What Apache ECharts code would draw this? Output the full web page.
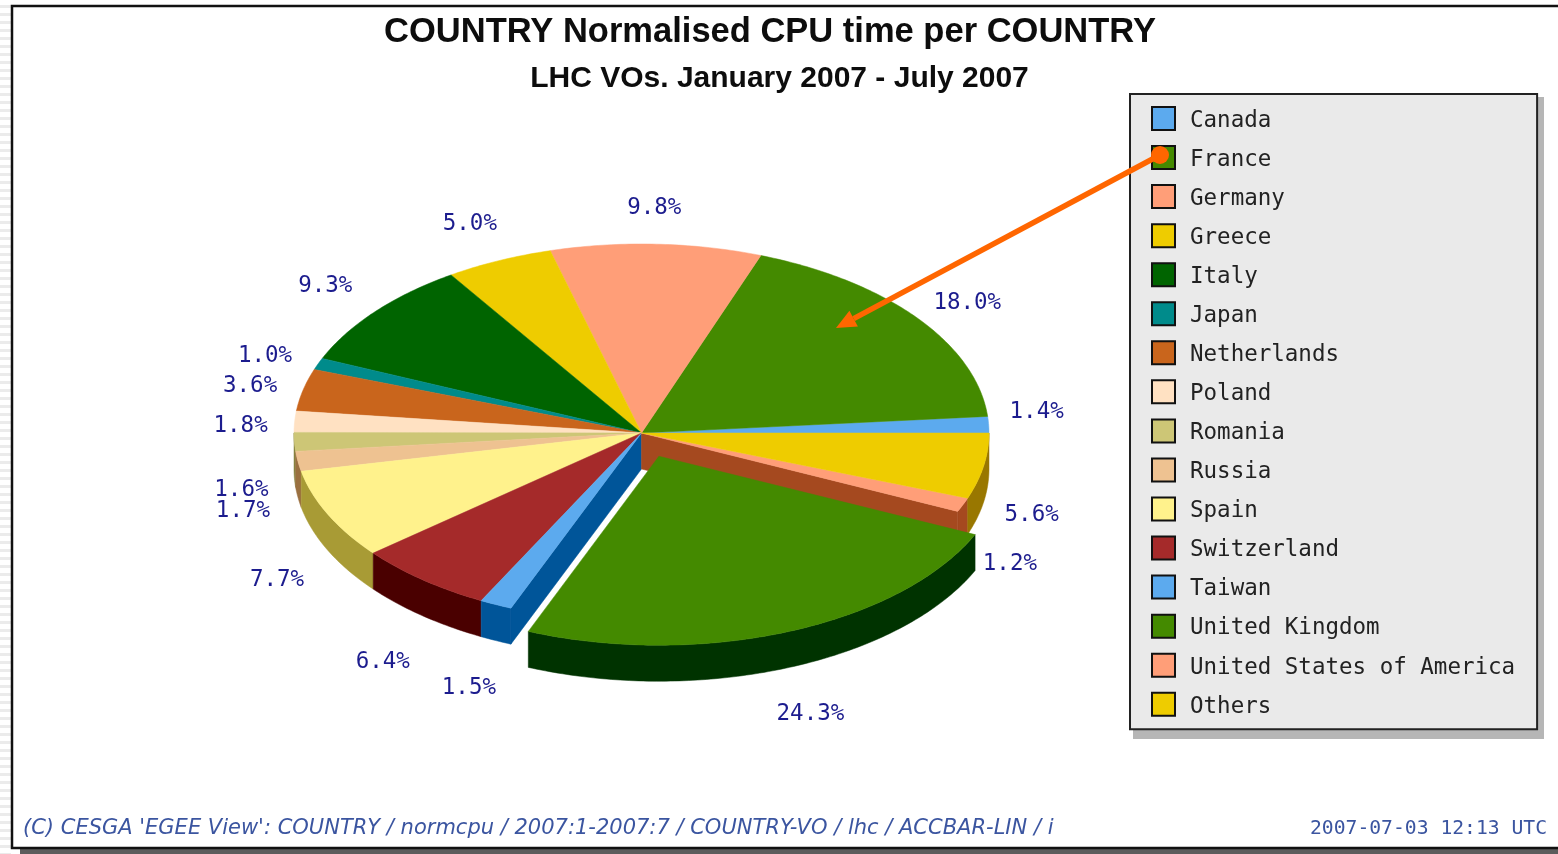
<!DOCTYPE html>
<html>
<head>
<meta charset="utf-8">
<style>
html,body{margin:0;padding:0;background:#fff;overflow:hidden}
#strip{position:absolute;left:0;top:0;width:11px;height:854px;background:repeating-linear-gradient(to bottom,#fff 0,#fff 5px,#ebebeb 5px,#ebebeb 8px)}
#chart{position:absolute;left:0;top:0;width:1558px;height:854px}
</style>
<script src="https://cdn.jsdelivr.net/npm/echarts@6/dist/echarts.min.js"></script>
</head>
<body>
<div id="strip"></div>
<div id="chart"></div>
<script>
const categories = ['Canada','France','Germany','Greece','Italy','Japan','Netherlands','Poland','Romania','Russia','Spain','Switzerland','Taiwan','United Kingdom','United States of America','Others'];
const shares = [1.4,18.0,9.8,5.0,9.3,1.0,3.6,1.8,1.6,1.7,7.7,6.4,1.5,24.3,1.2,5.6];
const topColors = ['#5caaee','#448a00','#ff9e78','#eecc00','#006400','#008b8b','#c9651c','#ffe1c2','#cdc676','#eec291','#fff28c','#a52a2a','#5caaee','#448a00','#ff9e78','#eecc00'];
const wallColors = ['#3a6f9c','#2d5a00','#a5491f','#997700','#003f00','#005a5a','#7f3f10','#a08a70','#86813f','#9a7040','#a89b35','#4a0000','#005599','#003300','#a5491f','#997700'];
const explodedCategory = 'United Kingdom';
// label nudges from the rim point of each slice (layout only)
const labelNudgeX = [48,50,-2,-29,-50,-53,-53,-54,-53,-55,-51,-40,-27,23,47,48];
const labelNudgeY = [-13,-15,-36,-36,-25,-8,-3.5,4,48,50,66,82,84,82,59,49];

const cx = 641.5, cy = 433, rx = 347.5, ry = 189, depth = 36;
const explodeRX = 47, explodeRY = 25;
const total = shares.reduce((a,b)=>a+b,0);
const labelFont = '22.5px "DejaVu Sans Mono"';

let acc = 0;
const startDeg = shares.map(s => { const d = acc/total*360; acc += s; return d; });
const rad = d => d*Math.PI/180;
const pt = (deg, ox, oy, dz) => [cx + ox + rx*Math.cos(rad(deg)), cy + oy - ry*Math.sin(rad(deg)) + (dz||0)];

function arcPts(a, b, ox, oy, dz){
  const out = [];
  const n = Math.max(2, Math.ceil((b-a)/0.75));
  for (let i=0;i<=n;i++) out.push(pt(a+(b-a)*i/n, ox, oy, dz));
  return out;
}

function renderSlice(idx, params, api){
  const share = api.value(0);
  const a = startDeg[idx], b = a + share/total*360;
  const mid = (a+b)/2;
  const isExp = categories[idx] === explodedCategory;
  const ox = isExp ? explodeRX*Math.cos(rad(mid)) : 0;
  const oy = isExp ? -explodeRY*Math.sin(rad(mid)) : 0;
  const color = topColors[idx], wall = wallColors[idx];
  const children = [];
  const lo = Math.max(a,180), hi = Math.min(b,360);
  if (hi > lo) {
    const top = arcPts(lo,hi,ox,oy,0);
    const bot = arcPts(lo,hi,ox,oy,depth).reverse();
    children.push({type:'polygon', z2:isExp?5:1, shape:{points:top.concat(bot)}, style:{fill:wall, stroke:wall, lineWidth:0.5}});
  }
  const nextExp = categories[idx+1] === explodedCategory;
  const prevExp = categories[idx-1] === explodedCategory;
  if (nextExp || prevExp) {
    const e = pt(nextExp ? b : a, 0, 0, 0);
    const poly = [[cx,cy], e, [e[0],e[1]+depth], [cx,cy+depth]];
    children.push({type:'polygon', z2:2, shape:{points:poly}, style:{fill:wall, stroke:wall, lineWidth:0.5}});
  }
  const topPts = [[cx+ox,cy+oy]].concat(arcPts(a,b,ox,oy,0));
  children.push({type:'polygon', z2:isExp?11:10, shape:{points:topPts}, style:{fill:color, stroke:color, lineWidth:0.5}});
  const rim = pt(mid, ox, oy, 0);
  children.push({type:'text', z2:20, style:{
    text: share.toFixed(1)+'%', x: rim[0]+labelNudgeX[idx], y: rim[1]+labelNudgeY[idx],
    align:'center', verticalAlign:'middle', fill:'#1c1c8e', font:labelFont
  }});
  return {type:'group', children};
}

const chart = echarts.init(document.getElementById('chart'), null, {renderer:'canvas'});

// annotation arrow from legend swatch to slice
const arrowFrom = [1160,155], arrowTo = [836,328];
const adx = arrowFrom[0]-arrowTo[0], ady = arrowFrom[1]-arrowTo[1], alen = Math.hypot(adx,ady);
const ux = adx/alen, uy = ady/alen, headL = 20, headW = 9;
const neck = [arrowTo[0]+ux*headL, arrowTo[1]+uy*headL];

chart.setOption({
  animation:false,
  title:[
    {text:'COUNTRY Normalised CPU time per COUNTRY', left:770, top:15, padding:0, textAlign:'center',
     textStyle:{fontFamily:'"Liberation Sans"', fontWeight:'bold', fontSize:34.5, color:'#0d0d0d'}},
    {text:'LHC VOs. January 2007 - July 2007', left:779.5, top:63.5, padding:0, textAlign:'center',
     textStyle:{fontFamily:'"Liberation Sans"', fontWeight:'bold', fontSize:30, color:'#0d0d0d'}},
    {text:"(C) CESGA 'EGEE View': COUNTRY / normcpu / 2007:1-2007:7 / COUNTRY-VO / lhc / ACCBAR-LIN / i", left:23, top:818, padding:0,
     textStyle:{fontFamily:'"DejaVu Sans"', fontStyle:'italic', fontWeight:'normal', fontSize:21, color:'#3b55a0'}},
    {text:'2007-07-03 12:13 UTC', left:1310, top:818.5, padding:0,
     textStyle:{fontFamily:'"DejaVu Sans Mono"', fontWeight:'normal', fontSize:19.7, color:'#3b55a0'}}
  ],
  legend:{
    orient:'vertical', left:1130, top:94, padding:[12,22,11,21],
    data:categories, selectedMode:false, icon:'rect',
    itemWidth:23, itemHeight:23, itemGap:12.55,
    itemStyle:{borderColor:'#111', borderWidth:2},
    backgroundColor:'#eaeaea', borderColor:'#222', borderWidth:2,
    formatter:'{n|{name}}',
    textStyle:{fontFamily:'"DejaVu Sans Mono"', fontSize:22.5, color:'#222',
      rich:{n:{fontFamily:'"DejaVu Sans Mono"', fontSize:22.5, color:'#222', padding:[5,0,0,10]}}}
  },
  graphic:{elements:[
    {type:'rect', z:-2, shape:{x:20,y:849,width:1538,height:5}, style:{fill:'#5c5c5c'}},
    {type:'rect', z:-1, shape:{x:12,y:6,width:1560,height:842}, style:{fill:'#fff', stroke:'#111', lineWidth:2.5}},
    {type:'rect', z:1, shape:{x:1133,y:97,width:411,height:642}, style:{fill:'#b6b6b6'}},
    {type:'line', z:100, shape:{x1:arrowFrom[0],y1:arrowFrom[1],x2:neck[0],y2:neck[1]}, style:{stroke:'#ff6600', lineWidth:5.5}},
    {type:'circle', z:100, shape:{cx:arrowFrom[0],cy:arrowFrom[1],r:9}, style:{fill:'#ff6600'}},
    {type:'polygon', z:100, shape:{points:[arrowTo,[neck[0]-uy*headW,neck[1]+ux*headW],[neck[0]+uy*headW,neck[1]-ux*headW]]}, style:{fill:'#ff6600'}}
  ]},
  series: categories.map((name,i)=>({
    type:'custom', name, coordinateSystem:'none', silent:true, clip:false,
    itemStyle:{color:topColors[i]},
    data:[[shares[i]]],
    renderItem:(p,api)=>renderSlice(i,p,api)
  }))
});
</script>
</body>
</html>
